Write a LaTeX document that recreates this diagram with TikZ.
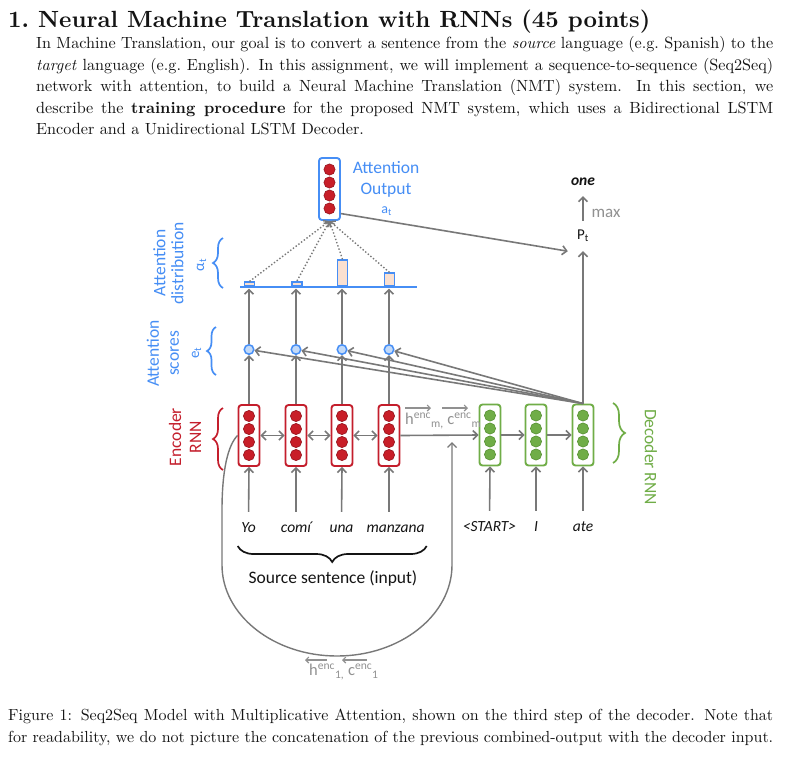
\documentclass[tikz,border=0pt]{standalone}
\usepackage{fontspec}
\usepackage{graphicx}
\newfontfamily\calfont{Carlito}
\usetikzlibrary{arrows.meta,decorations.pathreplacing,calc}

\definecolor{encred}{RGB}{196,30,44}
\definecolor{encdot}{RGB}{200,30,40}
\definecolor{encdotl}{RGB}{150,20,30}
\definecolor{decgreen}{RGB}{112,173,71}
\definecolor{decdotl}{RGB}{88,145,52}
\definecolor{attblue}{RGB}{70,142,245}
\definecolor{arrgray}{RGB}{120,120,120}
\definecolor{lblgray}{RGB}{145,145,145}
\definecolor{barfill}{RGB}{250,224,208}
\definecolor{scorefill}{RGB}{195,218,248}
\definecolor{txt}{RGB}{20,20,20}

\newlength\bodyW
\newlength\capW
\newlength\tmpW
\newcommand\maxwidth[2]{\settowidth\tmpW{#2}\ifdim\tmpW>#1 #1=\tmpW\fi}

\newcommand\bodyA{In Machine Translation, our goal is to convert a sentence from the \textit{source} language (e.g.\ Spanish) to the}
\newcommand\bodyB{\textit{target} language (e.g.\ English). In this assignment, we will implement a sequence-to-sequence (Seq2Seq)}
\newcommand\bodyC{network with attention, to build a Neural Machine Translation (NMT) system. In this section, we}
\newcommand\bodyD{describe the \textbf{training procedure} for the proposed NMT system, which uses a Bidirectional LSTM}
\newcommand\bodyE{Encoder and a Unidirectional LSTM Decoder.}
\newcommand\capA{Figure 1: Seq2Seq Model with Multiplicative Attention, shown on the third step of the decoder. Note that}
\newcommand\capB{for readability, we do not picture the concatenation of the previous combined-output with the decoder input.}

\AtBeginDocument{%
  \bodyW=0pt
  \maxwidth\bodyW{\bodyA}\maxwidth\bodyW{\bodyB}\maxwidth\bodyW{\bodyC}\maxwidth\bodyW{\bodyD}%
  \capW=0pt
  \maxwidth\capW{\capA}\maxwidth\capW{\capB}%
  \pgfmathsetmacro\bsc{737/\bodyW}%
  \pgfmathsetmacro\csc{765/\capW}%
}

\newcommand\celldots[3]{\foreach \dy in {-19.5,-6.5,6.5,19.5}{\fill[#2, draw=#3, line width=0.6pt] ($(#1)+(0,\dy)$) circle[radius=5.6pt];}}

\tikzset{
  lbl/.style={font=\calfont\fontsize{17.5}{20}\selectfont, inner sep=0, align=center},
  word/.style={font=\calfont\itshape\fontsize{15.5}{18}\selectfont, text=txt, inner sep=0, text height=11pt, text depth=3pt},
  cellbox/.style={line width=1.9pt, rounded corners=3pt, minimum width=21pt, minimum height=61pt, inner sep=0, fill=white},
  encbox/.style={cellbox, draw=encred},
  decbox/.style={cellbox, draw=decgreen},
  aobox/.style={cellbox, draw=attblue, minimum height=62pt},
  score/.style={circle, draw=attblue, fill=scorefill, line width=1.5pt, minimum size=9.5pt, inner sep=0},
  bar/.style={draw=attblue, fill=barfill, line width=1.6pt, minimum width=10pt, inner sep=0, anchor=south},
  arr/.style={draw=arrgray, line width=1.6pt, -{Straight Barb[length=4.5pt,width=9pt]}},
  dblarr/.style={draw=arrgray, line width=1.6pt, {Straight Barb[length=4.5pt,width=9pt]}-{Straight Barb[length=4.5pt,width=9pt]}},
  dotarr/.style={draw=arrgray, line width=1.4pt, dotted, -{Straight Barb[length=4pt,width=8pt]}},
  smallarr/.style={draw=lblgray, line width=1.1pt, -{Straight Barb[length=3pt,width=6pt]}},
  brc/.style={decorate, decoration={brace, amplitude=#1}, line width=1.7pt},
  brc/.default=10,
  sublbl/.style={font=\calfont\fontsize{16.5}{18}\selectfont, text=lblgray, inner sep=0, anchor=west},
}

\begin{document}
\begin{tikzpicture}[x=1pt,y=-1pt]
\useasboundingbox (0,0) rectangle (795,756);
\fill[white] (0,0) rectangle (795,756);

% ---- title and text ----
\node[anchor=base west, inner sep=0, text=txt] (title) at (8,27)
  {\resizebox{642pt}{!}{\bfseries 1.\ Neural Machine Translation with RNNs (45 points)}};
\node[anchor=base west, inner sep=0, text=txt] (p1) at (36,48.5) {\scalebox{\bsc}{\makebox[\bodyW][s]{\bodyA}}};
\node[anchor=base west, inner sep=0, text=txt] (p2) at (36,70) {\scalebox{\bsc}{\makebox[\bodyW][s]{\bodyB}}};
\node[anchor=base west, inner sep=0, text=txt] (p3) at (36,91.5) {\scalebox{\bsc}{\makebox[\bodyW][s]{\bodyC}}};
\node[anchor=base west, inner sep=0, text=txt] (p4) at (36,113) {\scalebox{\bsc}{\makebox[\bodyW][s]{\bodyD}}};
\node[anchor=base west, inner sep=0, text=txt] (p5) at (36,134.5) {\scalebox{\bsc}{\bodyE}};
\node[anchor=base west, inner sep=0, text=txt] (c1) at (8,720.5) {\scalebox{\csc}{\makebox[\capW][s]{\capA}}};
\node[anchor=base west, inner sep=0, text=txt] (c2) at (8,742.5) {\scalebox{\csc}{\makebox[\capW][s]{\capB}}};

\coordinate (uend) at (452,442);

% ---- encoder ----
\node[encbox] (e1) at (249,435.5) {};
\node[encbox] (e2) at (296,435.5) {};
\node[encbox] (e3) at (342,435.5) {};
\node[encbox] (e4) at (389,435.5) {};
\foreach \n in {e1,e2,e3,e4}{\celldots{\n}{encdot}{encdotl}}

% ---- decoder ----
\node[decbox] (d1) at (490,435) {};
\node[decbox] (d2) at (536,435) {};
\node[decbox] (d3) at (583,435) {};
\foreach \n in {d1,d2,d3}{\celldots{\n}{decgreen}{decdotl}}

% ---- attention output ----
\node[aobox] (ao) at (329.5,189) {};
\celldots{ao}{encdot}{encdotl}

% ---- attention scores ----
\node[score] (s1) at (249,349.5) {};
\node[score] (s2) at (296,349.5) {};
\node[score] (s3) at (342,349.5) {};
\node[score] (s4) at (389,349.5) {};

% ---- attention distribution ----
\node[bar, minimum height=4pt] (b1) at (249.5,287) {};
\node[bar, minimum height=4.5pt] (b2) at (297,287) {};
\node[bar, minimum height=26pt] (b3) at (342.5,287) {};
\node[bar, minimum height=13pt] (b4) at (389.5,287) {};
\draw[draw=attblue, line width=1.7pt] (240,287) -- (417,287);
\coordinate (l1) at (249,288.5);
\coordinate (l2) at (296,288.5);
\coordinate (l3) at (342,288.5);
\coordinate (l4) at (389,288.5);

% ---- words ----
\node[word] (w1) at (248.5,528) {Yo};
\node[word] (w2) at (296,528) {comí};
\node[word] (w3) at (341.5,528) {una};
\node[word] (w4) at (395.5,528) {manzana};
\node[word] (w5) at (489.5,527) {<START>};
\node[word] (w6) at (536,527) {I};
\node[word] (w7) at (583,527) {ate};

% ---- P_t and output ----
\node[font=\calfont\fontsize{15}{18}\selectfont, text=txt, inner sep=0, minimum width=30pt, minimum height=30pt] (pt) at (583,236) {P\textsubscript{t}};
\node[font=\calfont\bfseries\itshape\fontsize{15.5}{18}\selectfont, text=txt, inner sep=2pt] (one) at (583,182) {one};
\node[lbl, text=lblgray, font=\calfont\fontsize{17}{20}\selectfont] (max) at (606,213) {max};

% ---- connectors ----
\draw[draw=arrgray, line width=1.4pt, -{Straight Barb[length=4.5pt,width=9pt]}]
  (e1.west) .. controls (228,445) and (222,470) .. (222,510) -- (222,565)
  .. controls (222,615) and (273.5,656) .. (337,656)
  .. controls (400.5,656) and (452,615) .. (452,565) -- (uend);

\foreach \w/\e in {w1/e1,w2/e2,w3/e3,w5/d1,w6/d2,w7/d3}{\draw[arr, shorten <=9pt] (\w.north) -- (\e.south);}
\draw[arr, shorten <=9pt] (w4.north -| e4.south) -- (e4.south);

\draw[dblarr] (e1.east) -- (e2.west);
\draw[dblarr] (e2.east) -- (e3.west);
\draw[dblarr] (e3.east) -- (e4.west);
\draw[arr] (e4.east) -- (d1.west);
\draw[arr] (d1.east) -- (d2.west);
\draw[arr] (d2.east) -- (d3.west);

\foreach \i in {1,2,3,4}{
  \draw[arr] (e\i.north) -- (s\i.south);
  \draw[arr] (s\i.north) -- (l\i);
  \draw[arr] (d3.north) -- (s\i);
  \draw[dotarr] (b\i.north) -- (ao.south);
}
\draw[arr] (d3.north) -- (pt.south);
\draw[arr, shorten >=8pt] (pt.north) -- (one.south);
\draw[arr] (ao.-65) -- (pt.south west);

% ---- labels ----
\node[lbl, text=attblue, font=\calfont\fontsize{17.5}{21}\selectfont] (aol) at (386,179.5) {Attention\\Output};
\node[text=attblue, font=\calfont\fontsize{14}{16}\selectfont, inner sep=0] (at) at (386.7,211) {a\textsubscript{t}};

\node[lbl, text=attblue, rotate=90, font=\calfont\fontsize{17.5}{18}\selectfont] (adl) at (168.5,263) {Attention\\distribution};
\node[text=attblue, rotate=90, font=\calfont\fontsize{15}{16}\selectfont, inner sep=0] (alpha) at (201.5,265) {α\textsubscript{t}};
\node[lbl, text=attblue, rotate=90] (asl) at (163,353.5) {Attention\\scores};
\node[text=attblue, rotate=90, font=\calfont\fontsize{15}{16}\selectfont, inner sep=0] (et) at (196.5,353) {e\textsubscript{t}};
\node[lbl, text=encred, rotate=90] (erl) at (185,437) {Encoder\\RNN};
\node[lbl, text=decgreen, rotate=-90] (drl) at (651,457) {Decoder RNN};
\node[lbl, text=txt] (src) at (333,578) {Source sentence (input)};

\draw[brc=10, attblue] (223,288) -- (223,238);
\draw[brc=9, attblue] (216,375) -- (216,327);
\draw[brc=10, encred] (223,470) -- (223,408);
\draw[brc=12, decgreen] (613,403) -- (613,463);
\draw[brc=16, txt] (426.7,546) -- (237.7,546);

\node[sublbl] (hm) at (405,421) {h\textsuperscript{enc}\textsubscript{m,} c\textsuperscript{enc}\textsubscript{m}};
\draw[smallarr] (405,408) -- (431,408);
\draw[smallarr] (442,408) -- (468,408);
\node[sublbl] (h1) at (309,672) {h\textsuperscript{enc}\textsubscript{1,} c\textsuperscript{enc}\textsubscript{1}};
\draw[smallarr] (327,660) -- (305,660);
\draw[smallarr] (367,660) -- (342,660);
\end{tikzpicture}
\end{document}
